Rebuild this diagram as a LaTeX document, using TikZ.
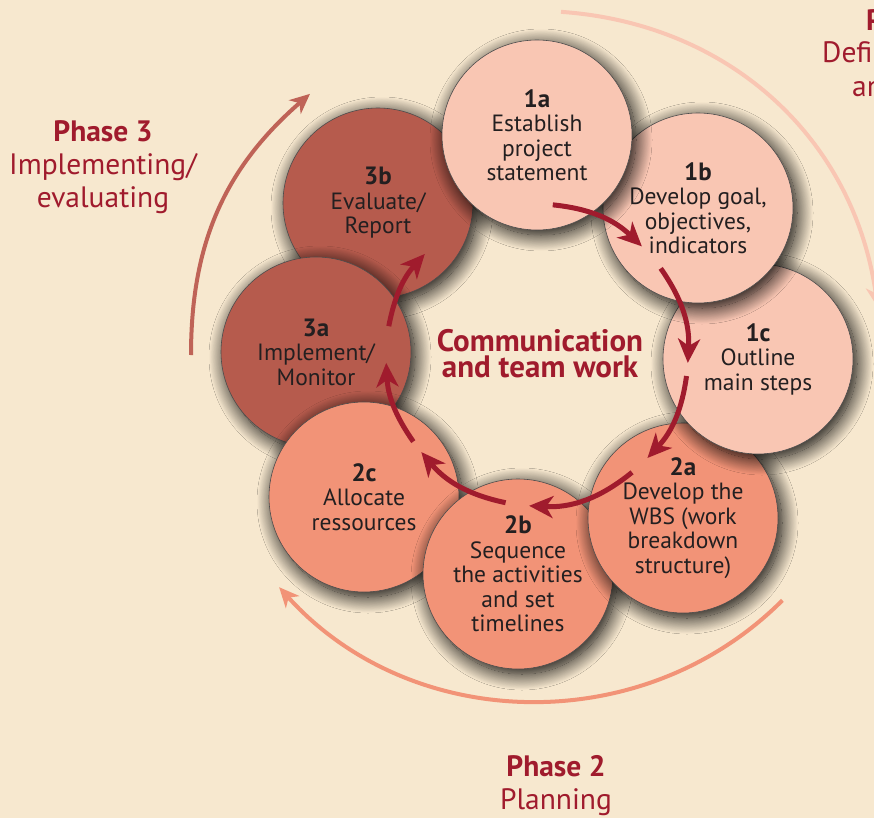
\documentclass[tikz,border=0pt]{standalone}
\usepackage{fontspec}
\setmainfont{PT Sans}
\usetikzlibrary{arrows.meta,shadows.blur}

\definecolor{cream}{HTML}{F7E8CF}
\definecolor{one}{HTML}{F9C6B3}
\definecolor{two}{HTML}{F29377}
\definecolor{three}{HTML}{B65B4D}
\definecolor{arcthree}{HTML}{BF6357}
\definecolor{wine}{HTML}{A01B2D}
\definecolor{ink}{HTML}{231F20}
\definecolor{rim}{HTML}{4D4D4D}

\newcommand{\stagenum}[1]{{\fontsize{25}{25}\selectfont\bfseries #1}}

\tikzset{
	task/.style={circle, draw=rim, line width=0.6pt, minimum size=190pt, inner sep=0pt,
		align=center, text=ink, font=\fontsize{23.5}{24.5}\selectfont,
		blur shadow={shadow xshift=4pt, shadow yshift=-5pt, shadow blur radius=16pt,
			shadow blur steps=24, shadow opacity=100}},
	flow/.style={draw=wine, line width=5pt, -{Stealth[length=24pt,width=22pt,inset=7pt]}},
	phase/.style={line width=4pt, -{Stealth[length=20pt,width=18pt,inset=6pt]}},
	phasetext/.style={text=wine, align=center, font=\fontsize{29.5}{33}\selectfont}
}

\begin{document}
\begin{tikzpicture}[x=1pt,y=-1pt]
\useasboundingbox (0,0) rectangle (874,818);
\clip (0,0) rectangle (874,818);
\fill[cream] (0,0) rectangle (874,818);
\coordinate (hub) at (537,355);

\path (hub) ++(274:344) coordinate (p1s) (hub) ++(352:344) coordinate (p1e);
\path (hub) ++(45:347) coordinate (p2s) (hub) ++(138:347) coordinate (p2e);
\path (hub) ++(180:346) coordinate (p3s) (hub) ++(229:346) coordinate (p3e);
\draw[phase, draw=one] (p1s) to[bend left=39] (p1e);
\draw[phase, draw=two] (p2s) to[bend left=46.5] (p2e);
\draw[phase, draw=arcthree] (p3s) to[bend left=24.5] (p3e);

\node[phasetext] (ph3) at (103,167) {\textbf{Phase 3}\\Implementing/\\evaluating};
\node[phasetext] (ph2) at (556,786) {\textbf{Phase 2}\\Planning};
\node[phasetext, anchor=base west, inner sep=0pt] (ph1a) at (866,31) {\textbf{P}};
\node[phasetext, anchor=base west, inner sep=0pt] (ph1b) at (822,63) {Defi};
\node[phasetext, anchor=base west, inner sep=0pt] (ph1c) at (852,97) {an};

\node[task, fill=three] (t3b) at (378,203) {\stagenum{3b}\\Evaluate/\\Report};
\node[task, fill=three] (t3a) at (316,352) {\stagenum{3a}\\Implement/\\Monitor};
\node[task, fill=two] (t2c) at (364,497) {\stagenum{2c}\\Allocate\\ressources};
\node[task, fill=two] (t2b) at (518,574) {\stagenum{2b}\\Sequence\\the activities\\and set\\timelines};
\node[task, fill=two] (t2a) at (683,518) {\stagenum{2a}\\Develop the\\WBS (work\\breakdown\\structure)};
\node[task, fill=one] (t1c) at (758,359) {\stagenum{1c}\\Outline\\main steps};
\node[task, fill=one] (t1b) at (698,208) {\stagenum{1b}\\Develop goal,\\objectives,\\indicators};
\node[task, fill=one] (t1a) at (537,135) {\stagenum{1a}\\Establish\\project\\statement};

\node[text=wine, align=center, font=\fontsize{31}{26}\selectfont\bfseries] (comm) at (540,354) {Communication\\and team work};

\foreach \i/\s/\e in {1/276/314, 2/325/363, 3/368/403, 4/411/453, 5/462/500, 6/505/537, 7/551/582}
{
	\path (hub) ++(\s:151) coordinate (s\i) (hub) ++(\e:151) coordinate (e\i);
	\pgfmathsetmacro\bend{(\e-\s)/2}
	\draw[flow] (s\i) to[bend left=\bend] (e\i);
}
\end{tikzpicture}
\end{document}
